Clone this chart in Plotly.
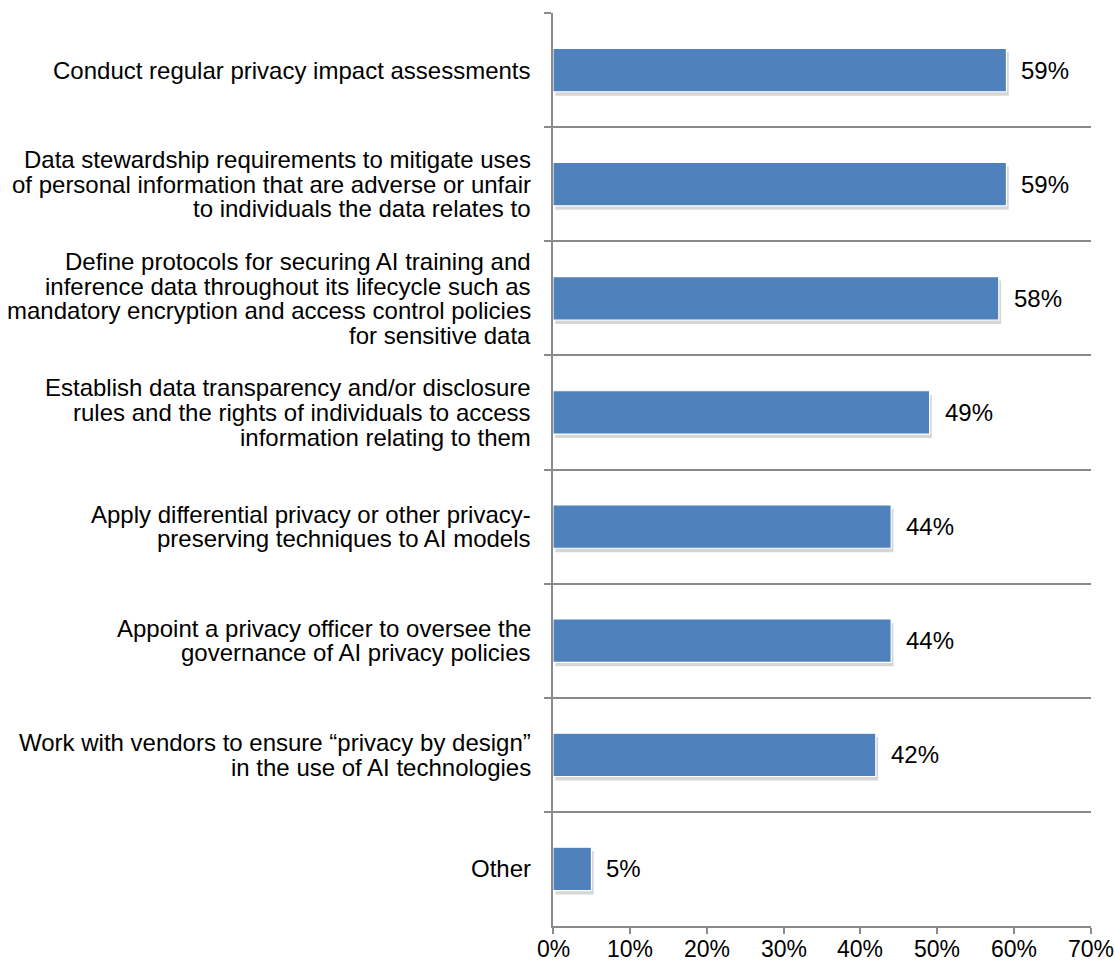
import plotly.graph_objects as go

# Survey responses: share of respondents selecting each privacy measure
categories = [
    "Conduct regular privacy impact assessments",
    "Data stewardship requirements to mitigate uses of personal information that are adverse or unfair to individuals the data relates to",
    "Define protocols for securing AI training and inference data throughout its lifecycle such as mandatory encryption and access control policies for sensitive data",
    "Establish data transparency and/or disclosure rules and the rights of individuals to access information relating to them",
    "Apply differential privacy or other privacy-preserving techniques to AI models",
    "Appoint a privacy officer to oversee the governance of AI privacy policies",
    "Work with vendors to ensure “privacy by design” in the use of AI technologies",
    "Other",
]

# Wrapped label lines for each category
label_lines = [
    ["Conduct regular privacy impact assessments"],
    ["Data stewardship requirements to mitigate uses",
     "of personal information that are adverse or unfair",
     "to individuals the data relates to"],
    ["Define protocols for securing AI training and",
     "inference data throughout its lifecycle such as",
     "mandatory encryption and access control policies",
     "for sensitive data"],
    ["Establish data transparency and/or disclosure",
     "rules and the rights of individuals to access",
     "information relating to them"],
    ["Apply differential privacy or other privacy-",
     "preserving techniques to AI models"],
    ["Appoint a privacy officer to oversee the",
     "governance of AI privacy policies"],
    ["Work with vendors to ensure “privacy by design”",
     "in the use of AI technologies"],
    ["Other"],
]

values = [59, 59, 58, 49, 44, 44, 42, 5]

x_tick_values = [0, 10, 20, 30, 40, 50, 60, 70]
x_tick_labels = ["0%", "10%", "20%", "30%", "40%", "50%", "60%", "70%"]

FONT = "Liberation Sans, Arial, Helvetica, sans-serif"
FONT_SIZE = 24
LINE_GAP = 24.6
BAR_COLOR = "#4F81BD"
AXIS_COLOR = "#8a8a8a"
BAR_WIDTH = 0.38

fig = go.Figure()

# soft drop shadow under each bar
fig.add_trace(go.Bar(
    x=values, y=categories, orientation="h",
    width=BAR_WIDTH, offset=-BAR_WIDTH / 2 + 0.035, base=0.3,
    marker=dict(color="rgba(0,0,0,0.16)", line=dict(width=0)),
    hoverinfo="skip", showlegend=False,
))

fig.add_trace(go.Bar(
    x=values, y=categories, orientation="h",
    width=BAR_WIDTH, offset=-BAR_WIDTH / 2,
    marker=dict(color=BAR_COLOR, line=dict(color="white", width=1.2)),
    showlegend=False,
))

annotations = []
# value labels to the right of each bar
for cat, v in zip(categories, values):
    annotations.append(dict(
        x=v, y=cat, xref="x", yref="y", text=f"{v}%",
        showarrow=False, xanchor="left", yanchor="middle", xshift=13,
        font=dict(family=FONT, size=FONT_SIZE, color="black"),
    ))

# right-aligned multi-line category labels
for cat, lines in zip(categories, label_lines):
    n = len(lines)
    for i, line in enumerate(lines):
        annotations.append(dict(
            x=0, y=cat, xref="paper", yref="y", text=line,
            showarrow=False, xanchor="right", yanchor="middle",
            xshift=-20, yshift=((n - 1) / 2 - i) * LINE_GAP,
            font=dict(family=FONT, size=FONT_SIZE, color="black"),
        ))

# percentage labels under the x axis ticks
for tv, tl in zip(x_tick_values, x_tick_labels):
    annotations.append(dict(
        x=tv, y=0, xref="x", yref="paper", text=tl,
        showarrow=False, xanchor="center", yanchor="top", yshift=-8,
        font=dict(family=FONT, size=23, color="black"),
    ))

fig.update_layout(
    width=1115, height=964,
    margin=dict(l=553, r=24, t=13, b=38, autoexpand=False),
    paper_bgcolor="white", plot_bgcolor="white",
    barmode="overlay",
    annotations=annotations,
    xaxis=dict(
        range=[0, 70], tickvals=x_tick_values, showticklabels=False,
        showgrid=False, zeroline=False, automargin=False,
        showline=True, linecolor=AXIS_COLOR, linewidth=1.5,
        ticks="outside", ticklen=6, tickwidth=1.5, tickcolor=AXIS_COLOR,
        fixedrange=True,
    ),
    yaxis=dict(
        type="category", categoryorder="array", categoryarray=categories,
        autorange="reversed", tickson="boundaries",
        showticklabels=False, automargin=False,
        showgrid=True, gridcolor=AXIS_COLOR, gridwidth=1.5,
        showline=True, linecolor=AXIS_COLOR, linewidth=1.5,
        ticks="outside", ticklen=7, tickwidth=1.5, tickcolor=AXIS_COLOR,
        zeroline=False, fixedrange=True,
    ),
)

fig.write_html("out.html")
